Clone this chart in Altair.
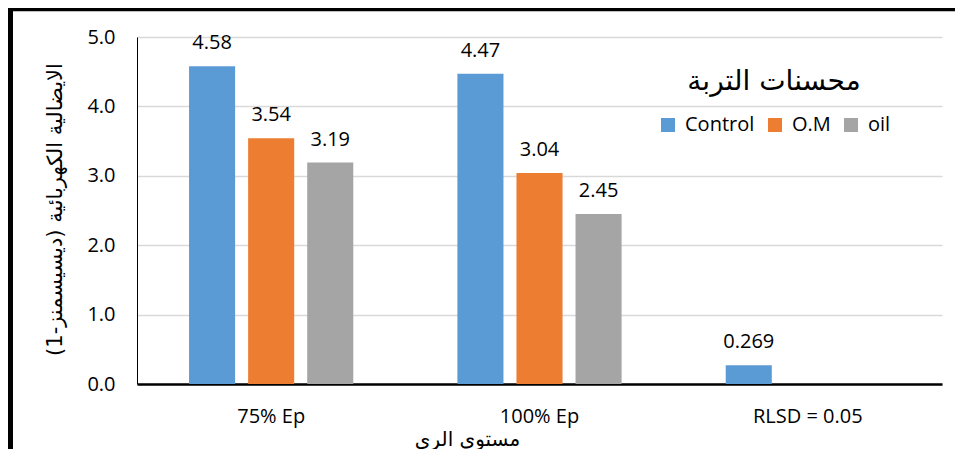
import altair as alt
import pandas as pd

groups = ["75% Ep", "100% Ep", "RLSD = 0.05"]
series = ["Control", "O.M", "oil"]
control_vals = [4.58, 4.47, 0.269]
om_vals = [3.54, 3.04, None]
oil_vals = [3.19, 2.45, None]
colors = ["#5B9BD5", "#ED7D31", "#A5A5A5"]
y_ticks = [0, 1, 2, 3, 4, 5]

rows = []
for s, vals in zip(series, [control_vals, om_vals, oil_vals]):
    for g, v in zip(groups, vals):
        if v is not None:
            rows.append({"group": g, "series": s, "value": v, "label": str(v)})
df = pd.DataFrame(rows)

LATIN = "Open Sans"
ARABIC = "DejaVu Sans"

x_enc = alt.X(
    "group:N", sort=groups,
    scale=alt.Scale(paddingInner=0.388, paddingOuter=0.194),
    axis=alt.Axis(
        title="مستوى الري", titleFont=ARABIC, titleFontSize=20, titleFontWeight="normal",
        titleColor="#000000", titleX=330, titleY=55, titleBaseline="middle", titleAlign="center",
        labelAngle=0, labelFont=LATIN, labelFontSize=20, labelColor="#000000",
        labelPadding=22, ticks=False, domainColor="#000000", domainWidth=2.5, grid=False,
    ),
)
xoff_enc = alt.XOffset("series:N", sort=series,
                       scale=alt.Scale(domain=series, paddingInner=0.22, paddingOuter=0))
y_enc = alt.Y(
    "value:Q",
    scale=alt.Scale(domain=[0, 5], nice=False),
    axis=alt.Axis(
        values=y_ticks, format=".1f",
        title="الايضالية الكهربائية (ديسيسمنز-1)", titleFont=ARABIC, titleFontSize=21,
        titleFontWeight="normal", titleColor="#000000", titleX=-82, titleY=172,
        titleBaseline="middle", titleAlign="center",
        labelFont=LATIN, labelFontSize=20, labelColor="#000000", labelPadding=22,
        ticks=False, domainColor="#000000", domainWidth=1,
        grid=True, gridColor="#D9D9D9", gridWidth=1.5,
    ),
)

base = alt.Chart(df).encode(x=x_enc, xOffset=xoff_enc, y=y_enc)

bars = base.mark_bar().encode(
    color=alt.Color(
        "series:N", sort=series,
        scale=alt.Scale(domain=series, range=colors),
        legend=alt.Legend(
            title="محسنات التربة", orient="none", legendX=521, legendY=31,
            direction="horizontal", titleAnchor="middle", titleFont=ARABIC,
            titleFontSize=28, titleFontWeight="normal", titleColor="#000000",
            titlePadding=19, labelFont=LATIN, labelFontSize=20, labelColor="#000000",
            symbolType="square", symbolSize=196, symbolStrokeWidth=0,
            labelOffset=7, columnPadding=10, padding=0,
        ),
    )
)

text = base.mark_text(baseline="alphabetic", dy=-17, font=LATIN, fontSize=20,
                      color="#000000").encode(text="label:N")

frame_df = pd.DataFrame({"k": [0]})
left_line = alt.Chart(frame_df).mark_rule(color="#000000", strokeWidth=5).encode(
    x=alt.value(-126.5), y=alt.value(-29), y2=alt.value(412))
top_line = alt.Chart(frame_df).mark_rule(color="#000000", strokeWidth=3.5).encode(
    x=alt.value(-129), x2=alt.value(818), y=alt.value(-27.5))

chart = alt.layer(bars, text, left_line, top_line).properties(
    width=805, height=347,
    autosize=alt.AutoSizeParams(type="none"),
    padding={"left": 129, "top": 29, "right": 13, "bottom": 65},
).configure_view(stroke=None)

chart.save("out.html", embed_options={"renderer": "svg", "actions": False})
